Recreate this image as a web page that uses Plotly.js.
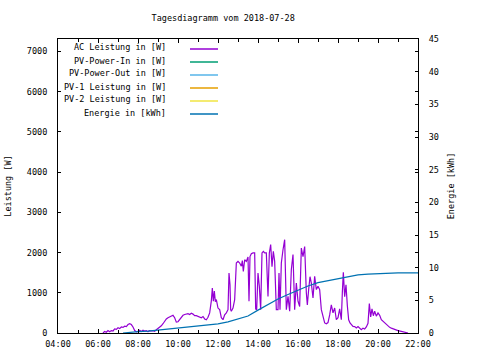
<!DOCTYPE html>
<html>
<head>
<meta charset="utf-8">
<script src="https://cdn.plot.ly/plotly-3.0.1.min.js"></script>
<style>html,body{margin:0;padding:0;background:#fff;}#chart{width:480px;height:360px;}</style>
</head>
<body>
<div id="chart"></div>
<script>
const day = "2018-07-28";
const titleText = "Tagesdiagramm vom 2018-07-28";
const seriesNames = ["AC Leistung in [W]", "PV-Power-In in [W]", "PV-Power-Out in [W]", "PV-1 Leistung in [W]", "PV-2 Leistung in [W]", "Energie in [kWh]"];
const seriesColors = ["#9400d3", "#009e73", "#56b4e9", "#e69f00", "#f0e442", "#0072b2"];

const acTimes = ["06:15","06:20","06:25","06:30","06:35","06:40","06:45","06:50","06:55","07:00","07:05","07:10","07:15","07:20","07:25","07:30","07:35","07:40","07:45","07:50","07:55","08:00","08:05","08:10","08:15","08:20","08:25","08:30","08:35","08:40","08:45","08:50","08:55","09:00","09:05","09:10","09:15","09:20","09:25","09:30","09:35","09:40","09:45","09:50","09:55","10:00","10:05","10:10","10:15","10:20","10:25","10:30","10:35","10:40","10:45","10:50","10:55","11:00","11:05","11:10","11:15","11:20","11:25","11:30","11:35","11:40","11:43","11:46","11:49","11:52","11:55","12:00","12:05","12:10","12:15","12:20","12:25","12:30","12:33","12:36","12:38","12:40","12:45","12:50","12:55","13:00","13:05","13:10","13:13","13:16","13:20","13:25","13:30","13:33","13:36","13:40","13:45","13:50","13:53","13:56","14:00","14:04","14:08","14:12","14:16","14:20","14:25","14:30","14:34","14:38","14:42","14:46","14:50","14:55","15:00","15:03","15:06","15:10","15:15","15:20","15:25","15:30","15:35","15:40","15:45","15:50","15:55","16:00","16:05","16:10","16:15","16:20","16:25","16:28","16:32","16:36","16:40","16:45","16:50","16:55","17:00","17:05","17:10","17:15","17:20","17:25","17:30","17:35","17:40","17:45","17:50","17:55","18:00","18:05","18:10","18:13","18:16","18:20","18:24","18:28","18:32","18:36","18:40","18:45","18:50","18:55","19:00","19:05","19:10","19:15","19:20","19:25","19:30","19:34","19:38","19:42","19:46","19:50","19:55","20:00","20:05","20:10","20:15","20:20","20:25","20:30","20:35","20:40","20:45","20:50","20:55","21:00","21:10","21:20","21:28","21:30"];
const acPower = [0,40,20,60,30,60,50,100,90,130,110,150,140,170,160,210,230,210,150,60,30,40,70,40,70,50,60,30,60,50,60,40,80,110,150,180,230,300,350,380,400,420,440,380,270,280,330,400,440,460,470,480,460,490,470,430,430,410,400,380,410,350,330,390,500,800,1120,790,1040,780,830,620,580,380,330,450,500,580,1490,1200,580,540,620,830,1740,1780,1740,1660,1800,1530,1820,1780,1890,790,1900,1970,1990,1990,600,580,1490,1160,580,1990,2030,1990,1990,910,1990,2200,1650,2030,1780,580,580,1490,580,1740,2070,2320,580,910,540,1580,1950,580,1240,790,660,2110,1900,2150,1000,700,1080,1400,1240,870,1410,1080,1160,1080,580,370,250,230,260,450,700,500,620,330,380,600,330,1000,1510,900,1200,680,330,250,200,165,160,125,160,120,80,120,100,150,240,730,400,600,430,540,420,500,440,330,290,250,210,170,140,120,100,83,70,58,40,25,10,0];

const pvInTimes = [], pvInPower = [];
const pvOutTimes = [], pvOutPower = [];
const pv1Times = [], pv1Power = [];
const pv2Times = [], pv2Power = [];

const energyTimes = ["07:15","07:30","08:00","08:30","09:00","09:30","10:00","10:30","11:00","11:30","12:00","12:30","13:00","13:30","14:00","14:30","15:00","15:30","16:00","16:30","17:00","17:30","18:00","18:30","19:00","19:30","20:00","20:30","21:00","21:30","22:00"];
const energyKWh = [0.0,0.1,0.2,0.3,0.45,0.6,0.8,0.95,1.1,1.25,1.4,1.7,2.1,2.6,3.5,4.4,5.2,5.9,6.6,7.2,7.7,8.0,8.3,8.6,8.9,9.0,9.1,9.2,9.2,9.2,9.2];

const yTickVals = [0,1000,2000,3000,4000,5000,6000,7000];
const y2TickVals = [0,5,10,15,20,25,30,35,40,45];

const ts = a => a.map(t => day + " " + t);
const font = {family: "DejaVu Sans Mono, Liberation Mono, monospace", size: 8.5, color: "#000"};

const powerSeries = [[acTimes, acPower],[pvInTimes, pvInPower],[pvOutTimes, pvOutPower],[pv1Times, pv1Power],[pv2Times, pv2Power]];
const traces = powerSeries.map((s, i) => ({
  x: ts(s[0]), y: s[1], type: "scatter", mode: "lines", name: seriesNames[i],
  line: {color: seriesColors[i], width: 1.2}, yaxis: "y", showlegend: false
}));
traces.push({x: ts(energyTimes), y: energyKWh, type: "scatter", mode: "lines", name: seriesNames[5],
  line: {color: seriesColors[5], width: 1.2}, yaxis: "y2", showlegend: false});

// legend drawn gnuplot-style: right-aligned text, sample line to the right
const L = 58, R = 418, T = 39, B = 333;
const px = x => (x - L) / (R - L);
const py = y => (B - y) / (B - T);
const annotations = [], shapes = [];
seriesNames.forEach((n, i) => {
  const yl = 49 + i * 13;
  annotations.push({text: n, xref: "paper", yref: "paper", x: px(168), y: py(yl - 1.5), xanchor: "right", yanchor: "middle", showarrow: false, font: font});
  shapes.push({type: "line", xref: "paper", yref: "paper", x0: px(190), x1: px(218), y0: py(yl), y1: py(yl), line: {color: seriesColors[i], width: 1.5}});
});

const layout = {
  width: 480, height: 360,
  margin: {l: L, r: 480 - R, t: T, b: 360 - B, pad: 0},
  paper_bgcolor: "#fff", plot_bgcolor: "#fff",
  font: font,
  showlegend: false,
  title: {text: titleText, font: font, xref: "container", x: 0.465, xanchor: "center", yref: "container", y: 1 - 18/360, yanchor: "middle"},
  xaxis: {
    type: "date", range: [day + " 04:00", day + " 22:00"],
    tickformat: "%H:%M", tick0: day + " 04:00", dtick: 7200000,
    ticks: "inside", ticklen: 4, tickcolor: "#000", mirror: "ticks",
    showline: true, linecolor: "#000", linewidth: 1, showgrid: false, zeroline: false,
    minor: {dtick: 3600000, ticks: "inside", ticklen: 3, tickcolor: "#000", showgrid: false},
    ticklabelstandoff: 3, tickfont: font
  },
  yaxis: {
    range: [0, 7310], tickvals: yTickVals, ticktext: yTickVals.map(String),
    ticks: "inside", ticklen: 3, tickcolor: "#000", mirror: "ticks",
    showline: true, linecolor: "#000", linewidth: 1, showgrid: false, zeroline: false,
    ticklabelstandoff: 8, tickfont: font,
    title: {text: "Leistung [W]", font: font, standoff: 13}
  },
  yaxis2: {
    overlaying: "y", side: "right", range: [0, 45], tickvals: y2TickVals,
    ticks: "inside", ticklen: 3, tickcolor: "#000",
    showline: true, linecolor: "#000", linewidth: 1, showgrid: false, zeroline: false,
    ticklabelstandoff: 8, tickfont: font,
    title: {text: "Energie [kWh]", font: font, standoff: 10}
  },
  annotations: annotations,
  shapes: shapes
};

Plotly.newPlot("chart", traces, layout, {displayModeBar: false, staticPlot: true});
</script>
</body>
</html>
